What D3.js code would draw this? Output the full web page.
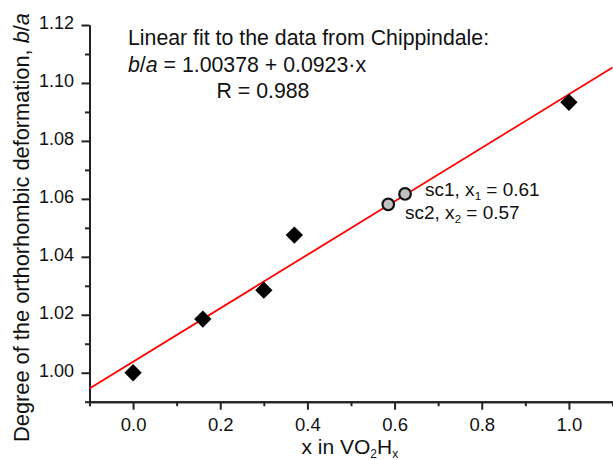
<!DOCTYPE html>
<html><head><meta charset="utf-8">
<script src="https://cdn.jsdelivr.net/npm/d3@7"></script>
<style>body{margin:0;background:#fff}svg{display:block}text{font-family:"Liberation Sans",Arial,sans-serif;fill:#111}</style>
</head><body>
<script>
const xVals = [0.0, 0.16, 0.30, 0.37, 1.0];
const yVals = [1.000, 1.0185, 1.0285, 1.0475, 1.0933];
const scX = [0.624, 0.5855];
const scY = [1.0617, 1.0581];
const fitIntercept = 1.00378, fitSlope = 0.0923;
const fitRange = [-0.1, 1.1];
const xTicks = [0.0, 0.2, 0.4, 0.6, 0.8, 1.0];
const yTicks = [1.00, 1.02, 1.04, 1.06, 1.08, 1.10, 1.12];

const W = 613, H = 460;
const svg = d3.select("body").append("svg").attr("width", W).attr("height", H);
const x = d3.scaleLinear().domain([-0.1, 1.1]).range([89.5, 612.5]);
const y = d3.scaleLinear().domain([0.99, 1.12]).range([401.7, 25]);

// axes
const axCol = "#222";
const xMinor = d3.range(-0.1, 1.1001, 0.1).filter(v => Math.abs(Math.round(v*10)%2) === 1);
const yMinor = d3.range(0.99, 1.1201, 0.01).map(v => +v.toFixed(2)).filter(v => Math.round(v*100)%2 === 1);

const gx = svg.append("g").attr("transform", `translate(0,${y(0.99)})`);
gx.call(d3.axisBottom(x).tickValues(xTicks).tickFormat(d3.format(".1f")).tickSize(8).tickSizeOuter(0).tickPadding(8.5));
gx.append("g").call(d3.axisBottom(x).tickValues(xMinor).tickFormat("").tickSize(4.5).tickSizeOuter(0));
const gy = svg.append("g").attr("transform", `translate(${x(-0.1)},0)`);
gy.call(d3.axisLeft(y).tickValues(yTicks).tickFormat(d3.format(".2f")).tickSize(8).tickSizeOuter(0).tickPadding(7.5));
gy.append("g").call(d3.axisLeft(y).tickValues(yMinor).tickFormat("").tickSize(4.5).tickSizeOuter(0));
svg.selectAll(".domain, .tick line").attr("stroke", axCol).attr("stroke-width", 2);
gx.selectAll(".tick text").attr("font-size", 18.5);
gy.selectAll(".tick text").attr("font-size", 18).attr("dy", "0.22em");
svg.selectAll(".tick text").attr("fill", "#111").style("font-family", '"Liberation Sans",Arial,sans-serif');

// fit line
svg.append("line")
  .attr("x1", x(fitRange[0])).attr("y1", y(fitIntercept + fitSlope*fitRange[0]))
  .attr("x2", x(fitRange[1])).attr("y2", y(fitIntercept + fitSlope*fitRange[1]))
  .attr("stroke", "#ff0000").attr("stroke-width", 1.8);

// diamonds
const dsym = d3.symbol().type(d3.symbolSquare).size(150);
svg.append("g").selectAll("path").data(xVals.map((v,i)=>[v,yVals[i]])).join("path")
  .attr("d", dsym)
  .attr("transform", d => `translate(${x(d[0])},${y(d[1])}) rotate(45)`)
  .attr("fill", "#000");

// circles
svg.append("g").selectAll("circle").data(scX.map((v,i)=>[v,scY[i]])).join("circle")
  .attr("cx", d => x(d[0])).attr("cy", d => y(d[1])).attr("r", 5.8)
  .attr("fill", "#c0c0c0").attr("stroke", "#111").attr("stroke-width", 2.2);

// annotations
const FS = 21.3;
svg.append("text").attr("x", 128).attr("y", 45).attr("font-size", FS).text("Linear fit to the data from Chippindale:");
const t2 = svg.append("text").attr("x", 128).attr("y", 71.5).attr("font-size", FS);
t2.append("tspan").attr("font-style", "italic").text("b");
t2.append("tspan").text("/");
t2.append("tspan").attr("font-style", "italic").text("a");
t2.append("tspan").text(" = 1.00378 + 0.0923·x");
svg.append("text").attr("x", 216.5).attr("y", 98).attr("font-size", FS).text("R = 0.988");

function scLabel(xp, yp, name, sub, val) {
  const t = svg.append("text").attr("x", xp).attr("y", yp).attr("font-size", 19);
  t.append("tspan").text(name + ", x");
  t.append("tspan").attr("font-size", 11.5).attr("dy", 4).text(sub);
  t.append("tspan").attr("dy", -4).text(" = " + val);
}
scLabel(425, 195.5, "sc1", "1", "0.61");
scLabel(405, 218.5, "sc2", "2", "0.57");

// axis titles
const xl = svg.append("text").attr("x", 301.5).attr("y", 453.5).attr("font-size", 21);
xl.append("tspan").text("x in VO");
xl.append("tspan").attr("font-size", 12).attr("dy", 4).text("2");
xl.append("tspan").attr("dy", -4).text("H");
xl.append("tspan").attr("font-size", 12).attr("dy", 4).text("x");

const yl = svg.append("text").attr("transform", "translate(29,227.5) rotate(-90)").attr("text-anchor", "middle").attr("font-size", 21.8);
yl.append("tspan").text("Degree of the orthorhombic deformation, ");
yl.append("tspan").attr("font-style", "italic").text("b");
yl.append("tspan").text("/");
yl.append("tspan").attr("font-style", "italic").text("a");
</script>
</body></html>
